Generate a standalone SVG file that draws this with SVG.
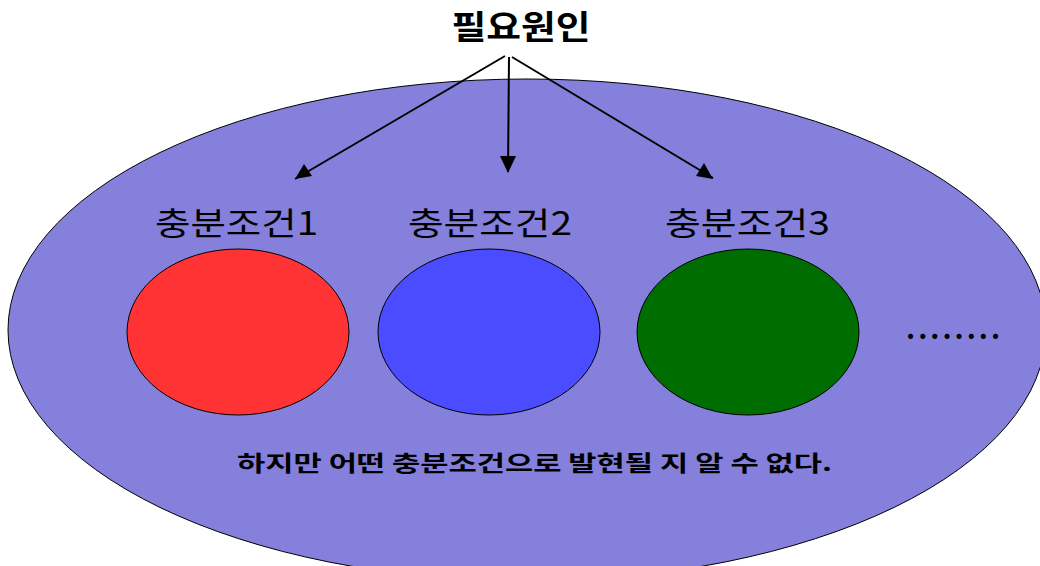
<svg xmlns="http://www.w3.org/2000/svg" width="1040" height="566" viewBox="0 0 1040 566">
<style>
.t{font-family:"Noto Sans CJK KR","Noto Sans",sans-serif;fill:#000}
.lbl{font-size:32px;font-weight:400}
.ell{stroke:#000;stroke-width:1}
.con{stroke:#000;stroke-width:2;fill:none}
</style>
<rect width="1040" height="566" fill="#fff"/>
<g id="outer">
<ellipse class="ell" cx="527" cy="330" rx="519" ry="251" fill="#8480DC"/>
</g>
<g id="title">
<text class="t" x="521" y="39" font-size="33" font-weight="700" text-anchor="middle" textLength="139" lengthAdjust="spacingAndGlyphs">필요원인</text>
</g>
<g id="cond1">
<text class="t lbl" x="155" y="235" textLength="163" lengthAdjust="spacingAndGlyphs">충분조건1</text>
<ellipse class="ell" cx="238" cy="332" rx="111" ry="83" fill="#FF3333"/>
</g>
<g id="cond2">
<text class="t lbl" x="408" y="235" textLength="164" lengthAdjust="spacingAndGlyphs">충분조건2</text>
<ellipse class="ell" cx="489" cy="332" rx="111" ry="83" fill="#4B4BFF"/>
</g>
<g id="cond3">
<text class="t lbl" x="665" y="235" textLength="165" lengthAdjust="spacingAndGlyphs">충분조건3</text>
<ellipse class="ell" cx="748" cy="332" rx="111" ry="83" fill="#006D00"/>
</g>
<g id="more">
<text class="t" x="906" y="339" font-size="28" font-weight="700" textLength="94" lengthAdjust="spacing">........</text>
</g>
<g id="note">
<text class="t" x="237" y="471" font-size="22" font-weight="700" textLength="595" lengthAdjust="spacingAndGlyphs">하지만 어떤 충분조건으로 발현될 지 알 수 없다.</text>
</g>
<g id="connectors">
<path class="con" d="M505,56 L295,179"/>
<path class="con" d="M509,57 L508,172"/>
<path class="con" d="M512,57 L713,178"/>
<path d="M295,179 L304,164 L312,176 Z" fill="#000"/>
<path d="M508,173 L500,156 L516,156 Z" fill="#000"/>
<path d="M713,179 L696,176 L704,163 Z" fill="#000"/>
</g>
</svg>
